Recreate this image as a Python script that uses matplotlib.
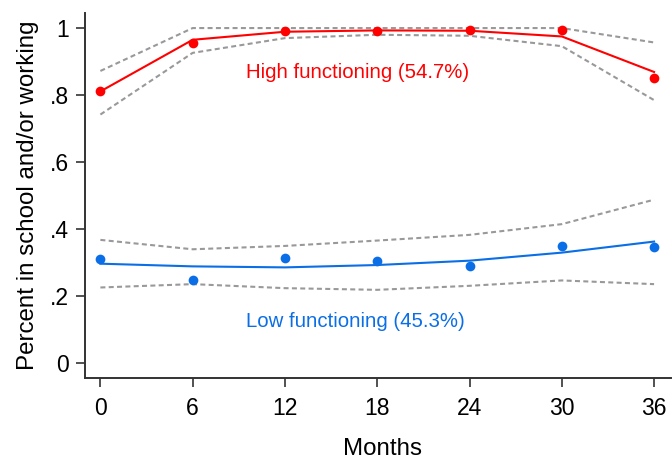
import matplotlib
matplotlib.use("Agg")
import matplotlib.pyplot as plt

months = [0, 6, 12, 18, 24, 30, 36]

high_obs = [0.811, 0.955, 0.990, 0.990, 0.995, 0.994, 0.852]
high_fit = [0.811, 0.965, 0.989, 0.993, 0.992, 0.975, 0.869]
high_upper = [0.872, 1.0, 1.0, 1.0, 1.0, 1.0, 0.957]
high_lower = [0.742, 0.926, 0.970, 0.980, 0.977, 0.946, 0.785]

low_obs = [0.311, 0.247, 0.315, 0.306, 0.290, 0.350, 0.347]
low_fit = [0.297, 0.289, 0.286, 0.293, 0.306, 0.330, 0.363]
low_upper = [0.368, 0.340, 0.350, 0.366, 0.383, 0.415, 0.488]
low_lower = [0.226, 0.236, 0.224, 0.219, 0.231, 0.247, 0.236]

yticks = [0, 0.2, 0.4, 0.6, 0.8, 1.0]
ytick_labels = ["0", ".2", ".4", ".6", ".8", "1"]

RED = "#FF0000"
BLUE = "#0A6EE6"
GRAY = "#999999"

plt.rcParams['font.family'] = ['Liberation Sans', 'DejaVu Sans']

fig = plt.figure(figsize=(6.72, 4.57), dpi=100)
ax = fig.add_axes([0.1265, 0.1729, 0.872, 0.7987])

for ci in (high_upper, high_lower, low_upper, low_lower):
    ax.plot(months, ci, color=GRAY, lw=1.5, ls=(0, (2.4, 1.6)))

ax.plot(months, high_fit, color=RED, lw=1.5)
ax.plot(months, high_obs, 'o', color=RED, ms=7, mec='none')
ax.plot(months, low_fit, color=BLUE, lw=1.5)
ax.plot(months, low_obs, 'o', color=BLUE, ms=7, mec='none')

ax.text(16.7, 0.866, "High functioning (54.7%)", color=RED, fontsize=14.7,
        ha='center', va='center')
ax.text(16.6, 0.125, "Low functioning (45.3%)", color=BLUE, fontsize=14.7,
        ha='center', va='center')

ax.set_xlim(-1.0, 37.1)
ax.set_ylim(-0.044, 1.045)
ax.set_xticks(months)
ax.set_yticks(yticks)
ax.set_yticklabels(ytick_labels)
ax.tick_params(axis='both', labelsize=16.5, length=6.5, width=1.2, color='#333333',
               direction='out')
ax.tick_params(axis='x', pad=7.5)
ax.tick_params(axis='y', pad=5)
for s in ('top', 'right'):
    ax.spines[s].set_visible(False)
for s in ('left', 'bottom'):
    ax.spines[s].set_color('#333333')
    ax.spines[s].set_linewidth(1.4)

ax.set_xlabel("Months", fontsize=17.4)
ax.xaxis.set_label_coords(0.5085, -0.165)
ax.xaxis.label.set_va('top')
ax.set_ylabel("Percent in school and/or working", fontsize=17.4, labelpad=8)

fig.savefig("out.png", dpi=100)
